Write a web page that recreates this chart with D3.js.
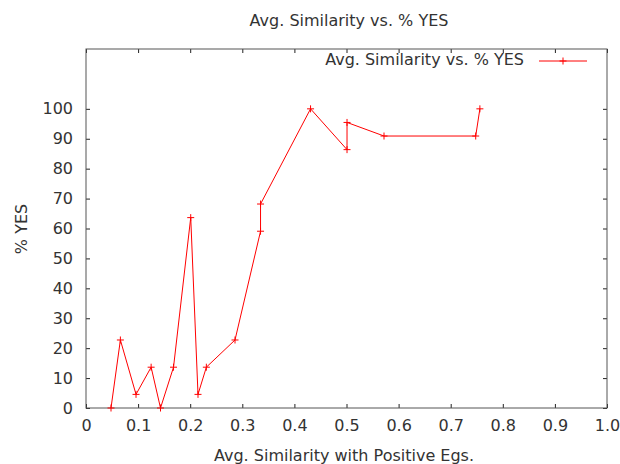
<!DOCTYPE html>
<html>
<head>
<meta charset="utf-8">
<script src="https://cdn.jsdelivr.net/npm/d3@7"></script>
<style>
  body { margin: 0; background: #fff; }
  text { font-family: "DejaVu Sans", sans-serif; fill: #333; }
</style>
</head>
<body>
<svg></svg>
<script>
// x: avg. similarity with positive examples
// y: % YES

const similarity = [0.048, 0.066, 0.096, 0.125, 0.143, 0.168, 0.201, 0.215, 0.231, 0.286,
                    0.335, 0.335, 0.431, 0.501, 0.501, 0.572, 0.748, 0.756];
const pctYes = [0, 22.73, 4.55, 13.64, 0, 13.64, 63.64, 4.55, 13.64, 22.73,
                59.09, 68.18, 100, 86.36, 95.45, 90.91, 90.91, 100];
const xTicks = [0, 0.1, 0.2, 0.3, 0.4, 0.5, 0.6, 0.7, 0.8, 0.9, 1.0];
const yTicks = [0, 10, 20, 30, 40, 50, 60, 70, 80, 90, 100];

const points = similarity.map((s, i) => ({x: s, y: pctYes[i]}));

const width = 620;
const height = 464;
const plotLeft = 86, plotRight = 607, plotTop = 49, plotBottom = 408;
const tickLen = 4;
const fontSize = 16;

// Scales
const xScale = d3.scaleLinear()
    .domain([0, 1])
    .range([plotLeft, plotRight]);

const yScale = d3.scaleLinear()
    .domain([0, 120])
    .range([plotBottom, plotTop]);

// Setup
const svg = d3.select("svg")
    .attr("width", width)
    .attr("height", height);

// Axes (gnuplot style: inward ticks, mirrored)
const xAxis = d3.axisBottom(xScale)
    .tickValues(xTicks)
    .tickFormat(d => d === 0 ? "0" : d3.format(".1f")(d))
    .tickSize(-tickLen)
    .tickSizeOuter(0)
    .tickPadding(12);

const yAxis = d3.axisLeft(yScale)
    .tickValues(yTicks)
    .tickFormat(d3.format("d"))
    .tickSize(-tickLen)
    .tickSizeOuter(0)
    .tickPadding(13);

svg.append("g")
    .attr("transform", `translate(0, ${plotBottom})`)
    .call(xAxis);

svg.append("g")
    .attr("transform", `translate(${plotLeft}, 0)`)
    .call(yAxis);

// mirrored ticks
svg.append("g")
    .attr("transform", `translate(0, ${plotTop})`)
    .call(d3.axisTop(xScale).tickValues(xTicks).tickSize(-tickLen).tickSizeOuter(0).tickFormat(""));

svg.append("g")
    .attr("transform", `translate(${plotRight}, 0)`)
    .call(d3.axisRight(yScale).tickValues(yTicks).tickSize(-tickLen).tickSizeOuter(0).tickFormat(""));

svg.selectAll(".domain").remove();
svg.selectAll(".tick line").attr("stroke", "#222");
svg.selectAll(".tick text")
    .attr("font-size", fontSize)
    .attr("fill", "#333")
    .attr("font-family", "DejaVu Sans, sans-serif");

// border
svg.append("rect")
    .attr("x", plotLeft)
    .attr("y", plotTop)
    .attr("width", plotRight - plotLeft)
    .attr("height", plotBottom - plotTop)
    .attr("fill", "none")
    .attr("stroke", "#555")
    .attr("stroke-width", 1);

// Line
const line = d3.line()
    .x(d => xScale(d.x))
    .y(d => yScale(d.y));

svg.append("path")
    .datum(points)
    .attr("d", line)
    .attr("fill", "none")
    .attr("stroke", "#ff0000")
    .attr("stroke-width", 1);

// "+" markers
svg.append("g")
  .selectAll("path")
  .data(points)
  .enter()
  .append("path")
    .attr("transform", d => `translate(${xScale(d.x)}, ${yScale(d.y)})`)
    .attr("d", "M-3.5,0H3.5M0,-3.5V3.5")
    .attr("stroke", "#ff0000")
    .attr("stroke-width", 1)
    .attr("fill", "none");

// Title and labels
svg.append("text")
    .text("Avg. Similarity vs. % YES")
    .attr("font-size", fontSize)
    .attr("text-anchor", "middle")
    .attr("x", 349)
    .attr("y", 25.5);

svg.append("text")
    .text("Avg. Similarity with Positive Egs.")
    .attr("font-size", fontSize)
    .attr("text-anchor", "middle")
    .attr("x", 344)
    .attr("y", 460.5);

svg.append("text")
    .text("% YES")
    .attr("font-size", fontSize)
    .attr("text-anchor", "middle")
    .attr("transform", "translate(26.5, 229) rotate(-90)");

// Legend
svg.append("text")
    .text("Avg. Similarity vs. % YES")
    .attr("font-size", fontSize)
    .attr("text-anchor", "end")
    .attr("x", 524)
    .attr("y", 65);

svg.append("line")
    .attr("x1", 539).attr("x2", 587)
    .attr("y1", 61).attr("y2", 61)
    .attr("stroke", "#ff0000");

svg.append("path")
    .attr("transform", "translate(563, 61)")
    .attr("d", "M-3.5,0H3.5M0,-3.5V3.5")
    .attr("stroke", "#ff0000")
    .attr("fill", "none");
</script>
</body>
</html>
